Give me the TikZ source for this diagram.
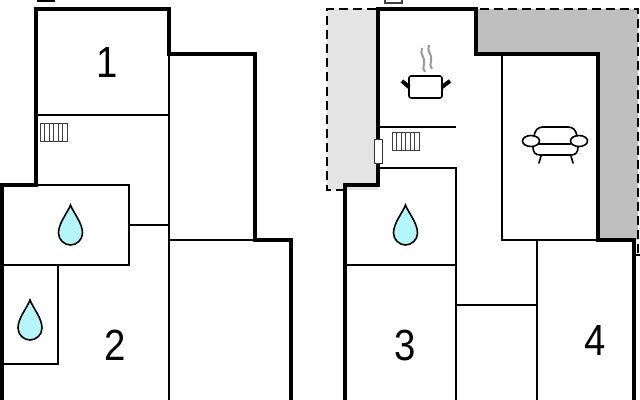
\documentclass[tikz,border=0pt]{standalone}
\usepackage{fontspec}
\setmainfont{Liberation Sans}
\newfontfamily\roomfont[FakeStretch=.88]{Liberation Sans}
\definecolor{dropblue}{HTML}{B4F6FA}
\definecolor{darkshade}{HTML}{BFBFBF}
\definecolor{lightshade}{HTML}{E4E4E4}
\tikzset{
	wall/.style={line width=1.15mm,miter limit=10},
	partition/.style={line width=.45mm},
	fixture/.style={line width=.18mm,draw=black!75},
	furniture/.style={line width=.4mm,line cap=round},
	roomno/.style={font=\roomfont\fontsize{31}{31}\selectfont,inner sep=0pt},
	drop/.pic={
		\draw[fill=dropblue,line width=.4mm]
		(0,-20) .. controls (-3,-12) and (-12,-2) .. (-12,8)
		.. controls (-12,15) and (-6,20) .. (0,20)
		.. controls (6,20) and (12,15) .. (12,8)
		.. controls (12,-2) and (3,-12) .. (0,-20) -- cycle;
	},
	radiator/.pic={
		\draw[fixture] (0,0) rectangle (27,18);
		\foreach \i in {4.5,9,...,22.5}
			\draw[fixture] (\i,0) -- (\i,18);
	}
}
\begin{document}
\begin{tikzpicture}[x=.025cm,y=-.025cm]
		\useasboundingbox (0,0) rectangle (640,400);

		% shaded terrain
		\fill[lightshade] (327,9) rectangle (378,190);
		\fill[darkshade] (477,9) -- (638,9) -- (638,240) -- (598,240) -- (598,54) -- (477,54) -- cycle;
		\draw[line width=.5mm,dash pattern=on 6.4pt off 3.6pt] (345,190) -- (327,190) -- (327,9) -- (638,9) -- (638,255);
		\draw[partition] (636,255) -- (640,255);

		% left plan
		\fill (37,0) rectangle (55,2);
		\draw[partition] (36,115) -- (169,115);
		\draw[partition] (169,54) -- (169,400);
		\draw[partition] (2,185) -- (129,185) -- (129,265) -- (2,265);
		\draw[partition] (129,225) -- (169,225);
		\draw[partition] (58,265) -- (58,364) -- (2,364);
		\draw[partition] (169,240) -- (255,240);
		\draw[wall] (2,400) -- (2,185) -- (36,185) -- (36,9) -- (169,9) -- (169,54) -- (255,54) -- (255,240) -- (291,240) -- (291,400);
		\pic at (40,123) {radiator};
		\pic at (70.5,225) {drop};
		\pic at (30,320) {drop};

		% right plan
		\draw[fixture,line width=.3mm] (385,-3) rectangle (402,3);
		\draw[partition] (378,127) -- (456,127);
		\draw[partition] (378,168) -- (456,168) -- (456,400);
		\draw[partition] (345,265) -- (456,265);
		\draw[partition] (456,305) -- (537,305);
		\draw[partition] (502,54) -- (502,240) -- (598,240);
		\draw[partition] (537,240) -- (537,400);
		\draw[wall] (345,400) -- (345,185) -- (378,185) -- (378,9) -- (476,9) -- (476,54) -- (598,54) -- (598,240) -- (634,240) -- (634,400);
		\draw[fill=white,line width=.25mm,draw=black!80] (374,140) rectangle (382,164);
		\pic at (392,132) {radiator};
		\pic at (405.5,225) {drop};

		% pot
		\draw[furniture,rounded corners=1.5pt] (409,76) -- (442,76) -- (442,98) -- (409,98) -- cycle;
		\draw[line width=1mm] (402,81) -- (409,87);
		\draw[line width=1mm] (442,87) -- (450,81);
		\draw[line width=.5mm,gray!80] (422,48) .. controls (419,54) and (426,58) .. (424,64) .. controls (423,67) and (423,70) .. (425,72);
		\draw[line width=.5mm,gray!80] (429,45) .. controls (426,51) and (433,55) .. (431,61) .. controls (430,64) and (430,66) .. (432,69);

		% sofa
		\draw[furniture] (534,136) .. controls (535,130) and (538,127) .. (543,127) -- (568,127) .. controls (573,127) and (576,130) .. (577,136);
		\draw[furniture] (533,147) .. controls (533,152) and (535,155) .. (540,155) -- (571,155) .. controls (576,155) and (578,152) .. (578,147);
		\draw[furniture] (539,144) -- (571,144);
		\draw[furniture] (531,141) ellipse (8.5 and 5.5);
		\draw[furniture] (579,141) ellipse (8.5 and 5.5);
		\draw[furniture] (541,156) -- (539,163);
		\draw[furniture] (571,156) -- (573,163);

		\node[roomno] (room1) at (107,63) {1};
		\node[roomno] (room2) at (115,345) {2};
		\node[roomno] (room3) at (405,345) {3};
		\node[roomno] (room4) at (595,341) {4};
	\end{tikzpicture}
\end{document}
